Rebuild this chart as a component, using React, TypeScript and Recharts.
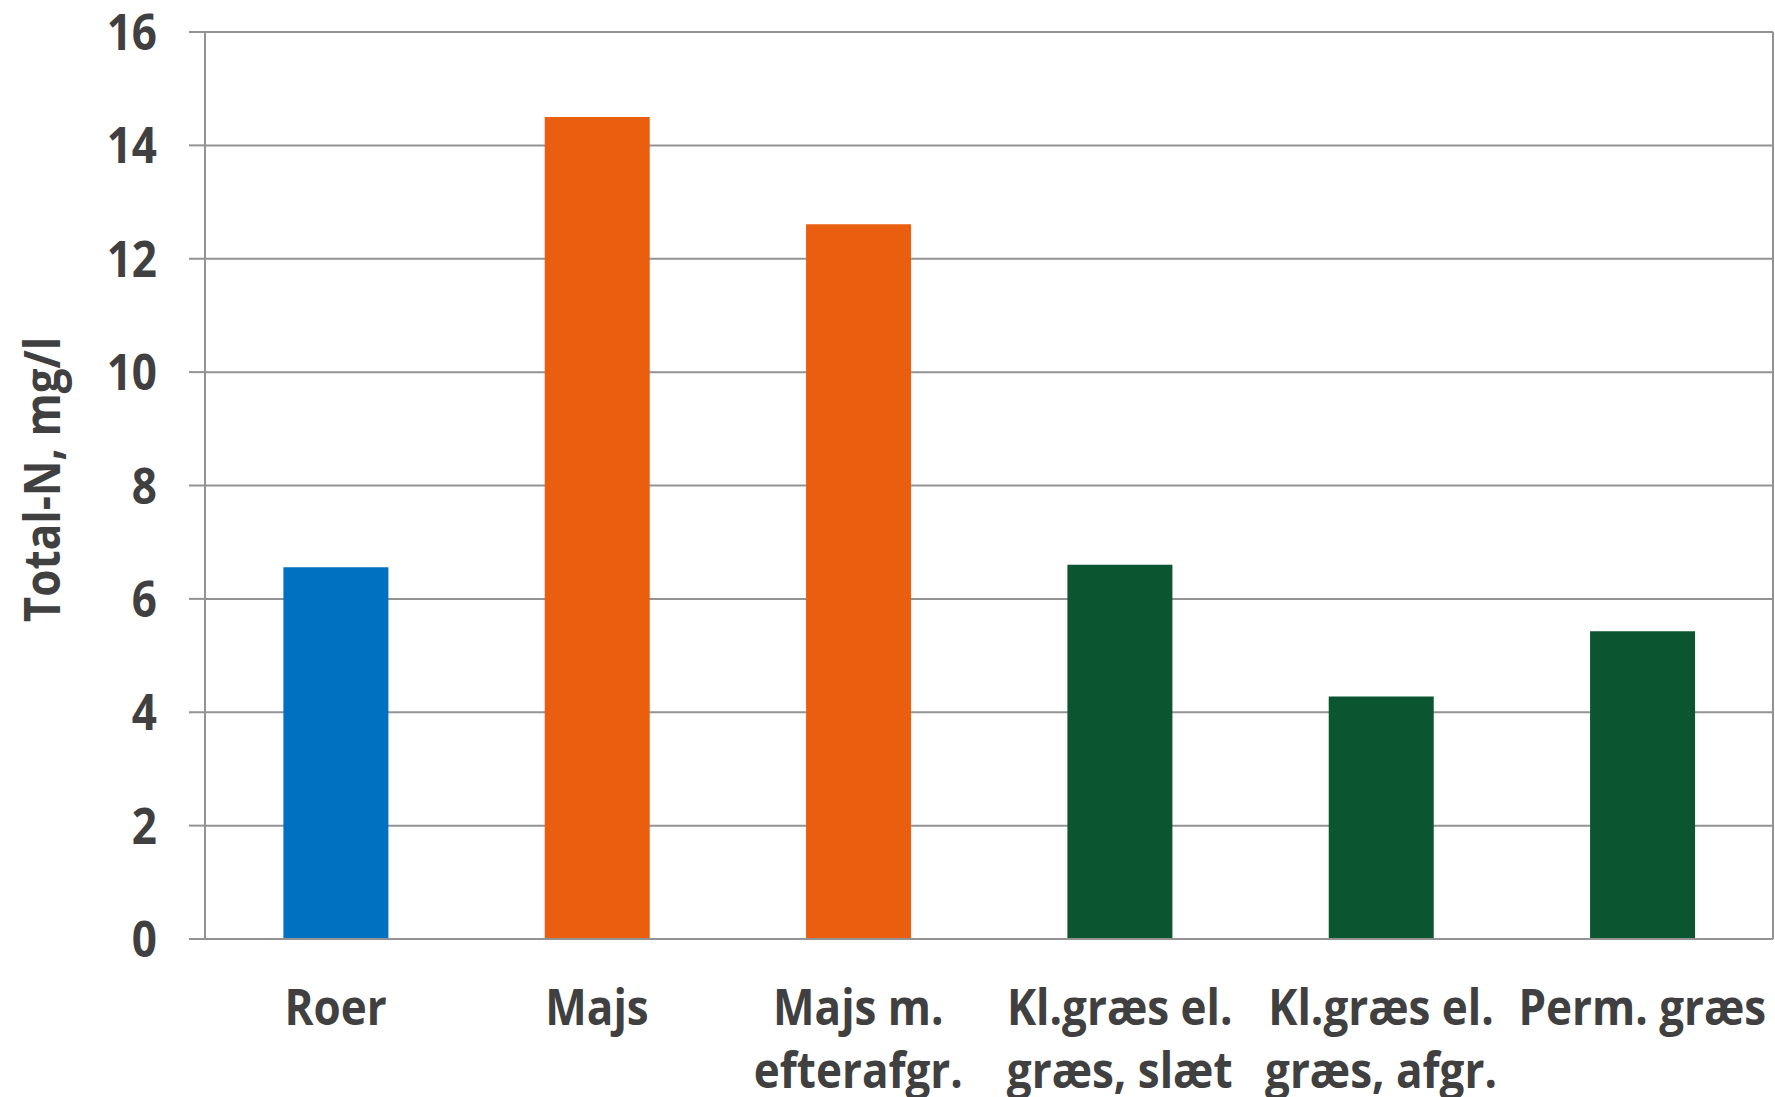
import React from "react";
import { BarChart, Bar, XAxis, YAxis, CartesianGrid, Cell } from "recharts";

const categories = [
  "Roer",
  "Majs",
  "Majs m.\nefterafgr.",
  "Kl.græs el.\ngræs, slæt",
  "Kl.græs el.\ngræs, afgr.",
  "Perm. græs",
];
const totalN = [6.56, 14.5, 12.61, 6.6, 4.28, 5.43];
const barColors = ["#0070c0", "#e95e0f", "#e95e0f", "#0b5630", "#0b5630", "#0b5630"];
const yTicks = [0, 2, 4, 6, 8, 10, 12, 14, 16];
const boundaryTicks = [0, 1, 2, 3, 4, 5, 6];

const data = categories.map((name, i) => ({ name, value: totalN[i] }));

const FONT = "'Open Sans', sans-serif";
const TEXT = "#404040";
const GRID = "#939393";
// Open Sans runs wider than the narrow bold face used on the chart, so squeeze it a bit
const SQUEEZE = 0.88;

function CategoryTick(props: any) {
  const { x, y, payload } = props;
  const lines = String(payload.value).split("\n");
  return (
    <g transform={`translate(${x},${y}) scale(${SQUEEZE},1)`}>
      <text
        x={0}
        y={0}
        textAnchor="middle"
        fill={TEXT}
        fontFamily={FONT}
        fontWeight="bold"
        fontSize={50}
      >
        {lines.map((line, i) => (
          <tspan key={i} x={0} dy={i === 0 ? 86 : 63}>
            {line}
          </tspan>
        ))}
      </text>
    </g>
  );
}

function ValueTick(props: any) {
  const { x, y, payload } = props;
  return (
    <g transform={`translate(${x},${y}) scale(${SQUEEZE},1)`}>
      <text
        x={0}
        y={0}
        dy="0.36em"
        textAnchor="end"
        fill={TEXT}
        fontFamily={FONT}
        fontWeight="bold"
        fontSize={50}
      >
        {payload.value}
      </text>
    </g>
  );
}

function AxisTitle(props: any) {
  const { viewBox } = props;
  const cx = viewBox.x + 42;
  const cy = viewBox.y + viewBox.height / 2 - 6;
  return (
    <g transform={`translate(${cx},${cy}) rotate(-90) scale(${SQUEEZE},1)`}>
      <text
        x={0}
        y={0}
        dy="0.36em"
        textAnchor="middle"
        fill={TEXT}
        fontFamily={FONT}
        fontWeight="bold"
        fontSize={50}
      >
        Total-N, mg/l
      </text>
    </g>
  );
}

export default function App() {
  return (
    <div style={{ position: "absolute", left: 0, top: 0, background: "#fff" }}>
      <BarChart
        width={1775}
        height={1097}
        data={data}
        margin={{ top: 32, right: 0, bottom: 0, left: 0 }}
        barCategoryGap="30%"
      >
        <CartesianGrid horizontal vertical={false} stroke={GRID} strokeWidth={2} yAxisId="left" xAxisId="cat" />
        <XAxis
          xAxisId="bounds"
          type="number"
          domain={[0, 6]}
          ticks={boundaryTicks}
          allowDataOverflow
          height={0}
          axisLine={false}
          tickLine={{ stroke: GRID, strokeWidth: 2 }}
          tickSize={16}
          tickFormatter={() => ""}
        />
        <XAxis
          xAxisId="cat"
          dataKey="name"
          interval={0}
          height={158}
          tickSize={0}
          tickMargin={0}
          tickLine={false}
          axisLine={{ stroke: GRID, strokeWidth: 2 }}
          tick={<CategoryTick />}
        />
        <YAxis
          yAxisId="left"
          domain={[0, 16]}
          ticks={yTicks}
          width={205}
          tickSize={16}
          tickMargin={32}
          axisLine={{ stroke: GRID, strokeWidth: 2 }}
          tickLine={{ stroke: GRID, strokeWidth: 2 }}
          tick={<ValueTick />}
          label={{ content: <AxisTitle /> }}
        />
        <YAxis
          yAxisId="right"
          orientation="right"
          domain={[0, 16]}
          width={2}
          tick={false}
          tickLine={false}
          axisLine={{ stroke: GRID, strokeWidth: 2 }}
        />
        <Bar dataKey="value" xAxisId="cat" yAxisId="left" isAnimationActive={false}>
          {data.map((_, i) => (
            <Cell key={i} fill={barColors[i]} />
          ))}
        </Bar>
      </BarChart>
    </div>
  );
}
